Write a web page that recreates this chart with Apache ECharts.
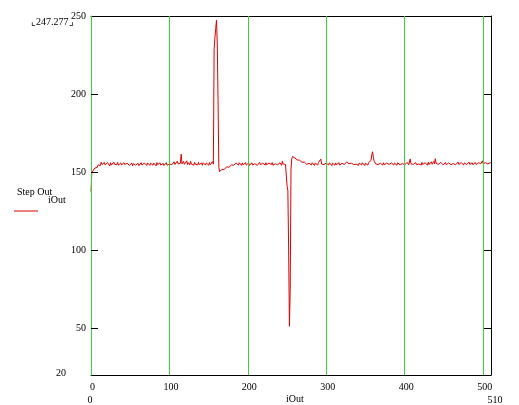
<!DOCTYPE html>
<html>
<head>
<meta charset="utf-8">
<script src="https://cdn.jsdelivr.net/npm/echarts@6/dist/echarts.min.js"></script>
<style>
html,body{margin:0;padding:0;background:#fff;}
#chart{width:519px;height:405px;}
</style>
</head>
<body>
<div id="chart"></div>
<script>
// ---- data ----
const stepOut = [
137.5,149.2,150.4,151.3,151.0,152.6,152.1,153.8,153.0,154.6,153.7,155.4,154.2,156.3,154.8,155.9,154.1,156.2,154.6,155.8,
154.3,156.1,154.9,155.4,153.9,156.0,154.5,155.7,154.2,156.4,155.0,154.1,155.8,154.7,156.2,154.4,155.3,153.8,155.9,154.6,
155.5,154.2,156.1,154.8,155.2,153.9,155.7,154.5,156.0,154.3,155.1,154.6,155.8,154.0,155.4,154.9,156.2,154.4,155.0,154.7,
155.6,154.1,155.3,154.8,156.0,154.5,155.2,153.9,155.8,154.6,155.4,154.2,155.9,154.7,155.1,154.3,155.7,154.9,155.3,154.4,
155.8,154.6,155.2,154.0,156.1,154.8,155.4,154.3,155.9,154.5,155.1,154.7,155.6,154.2,155.3,154.9,156.0,154.4,155.5,154.8,
155.2,154.5,156.3,154.7,155.9,154.1,156.6,154.9,155.4,154.6,157.0,155.2,156.4,154.8,155.7,161.5,155.3,154.6,156.8,155.0,
155.9,154.3,157.2,154.8,156.1,155.4,154.6,156.9,155.1,154.7,155.8,154.4,156.3,155.0,154.5,155.9,154.7,156.2,154.9,155.3,
154.6,155.8,154.3,156.0,154.8,155.4,154.5,155.9,154.9,155.2,154.4,156.1,154.7,155.5,154.9,156.7,155.1,229.0,236.0,242.0,
247.277,232.0,196.0,153.0,150.2,151.0,150.6,151.8,151.2,152.5,151.7,152.9,152.2,153.4,152.6,153.8,153.1,154.2,153.5,154.6,
154.1,155.3,154.4,155.6,154.2,155.8,154.7,155.1,154.5,156.0,154.8,155.4,154.3,155.9,154.6,155.2,154.9,156.1,154.4,155.5,
154.7,155.9,154.2,155.3,154.8,156.0,154.5,155.6,154.1,155.4,154.9,155.8,154.3,155.2,154.6,156.2,154.8,155.1,154.4,155.7,
154.9,155.3,154.5,156.0,154.7,155.5,154.2,155.8,154.6,155.2,154.8,156.1,154.4,155.6,154.9,155.3,154.5,156.3,154.7,155.4,
154.6,156.0,155.1,154.3,157.0,155.2,154.8,156.4,154.9,154.5,141.0,138.0,100.0,51.2,75.0,152.0,158.5,160.0,160.9,159.6,
159.0,158.4,158.7,157.8,158.1,157.2,157.6,156.8,157.1,156.3,156.6,155.7,156.4,155.3,156.1,155.0,155.8,154.7,155.6,154.9,
155.4,154.6,156.0,154.8,155.3,154.2,155.9,154.7,155.5,154.4,156.1,155.0,155.6,158.3,155.2,154.6,156.0,154.8,155.4,154.3,
155.8,154.7,155.2,154.5,156.0,154.9,155.3,154.1,155.7,154.8,155.1,154.4,155.9,154.6,155.2,154.9,156.1,154.5,155.4,154.7,
155.6,154.8,156.3,155.0,155.9,154.6,156.4,155.2,157.2,155.4,156.0,154.9,155.7,154.5,155.3,154.8,155.9,154.4,155.1,154.7,
155.5,154.3,155.8,154.9,155.2,154.6,156.0,154.8,155.4,154.2,155.7,154.9,155.3,154.5,156.1,155.0,156.4,157.5,161.0,163.0,
159.5,157.0,155.8,155.2,154.6,155.9,154.8,155.3,154.4,155.7,154.9,155.1,154.5,156.0,154.7,155.4,154.2,155.8,154.6,155.2,
154.9,155.6,154.3,155.9,154.7,155.1,154.5,155.8,154.8,155.3,154.4,156.0,154.9,155.2,154.6,155.7,154.3,155.5,154.8,155.9,
154.6,155.3,154.9,156.2,155.0,154.7,155.8,158.4,155.3,154.6,156.0,154.9,155.4,154.5,156.1,154.8,155.6,154.3,155.2,154.9,
155.8,154.5,156.2,154.9,155.4,154.6,156.0,155.1,155.7,154.4,156.3,154.8,155.5,154.7,156.6,155.0,155.9,156.8,155.3,158.6,
155.6,154.7,156.0,154.9,155.4,154.5,156.2,155.0,155.8,154.6,155.3,154.9,156.1,154.7,155.6,154.4,155.9,155.1,155.3,154.8,
156.0,154.6,155.4,155.0,156.2,154.7,155.8,155.2,156.4,154.9,155.5,154.8,156.1,155.0,155.7,154.6,155.9,155.2,156.3,154.8,
155.6,155.1,156.4,154.9,155.8,155.3,156.0,154.7,155.5,155.1,156.2,154.9,155.7,155.2,156.1,155.0,155.8,155.3,156.5,157.2,
155.4,155.9,155.1,156.0,155.3,155.8,155.2,155.9,155.5,156.1,155.6
];
const xTicks = [0, 100, 200, 300, 400, 500];
const xEnds = [0, 510];
const yTicks = [20, 50, 100, 150, 200, 250];
const yMarks = [50, 100, 150, 200];
const xMin = 0, xMax = 510, yMin = 20, yMax = 250;
const seriesName = 'Step Out';
const seriesSub = 'iOut';
const xName = 'iOut';
const topValue = '247.277';

const points = stepOut.map((v, i) => [i, v]);
const FONT = '"Liberation Serif", "DejaVu Serif", serif';
const GREEN = '#3fd03f';
const PLOT_W = 519 - 91 - 28;

const chart = echarts.init(document.getElementById('chart'), null, {renderer: 'canvas'});
chart.setOption({
  animation: false,
  backgroundColor: '#ffffff',
  grid: {left: 91, right: 28, top: 16, bottom: 30, show: false, containLabel: false, outerBoundsMode: 'none'},
  xAxis: [{
    type: 'value', min: xMin, max: xMax, position: 'bottom',
    axisLine: {show: true, onZero: false, lineStyle: {color: '#000', width: 1}},
    axisTick: {show: false},
    splitLine: {show: false},
    axisLabel: {customValues: xTicks, color: '#000', fontFamily: FONT, fontSize: 10, margin: 7,
      formatter: v => '{p|' + v + '}', rich: {p: {fontFamily: FONT, fontSize: 10, padding: [0, 0, 0, 3]}}}
  }, {
    type: 'value', min: xMin, max: xMax, position: 'bottom', offset: 13,
    axisLine: {show: false, onZero: false}, axisTick: {show: false}, splitLine: {show: false},
    axisLabel: {customValues: xEnds, color: '#000', fontFamily: FONT, fontSize: 10, margin: 7,
      formatter: v => v === xMax ? '{r|' + v + '}' : '{l|' + v + '}',
      rich: {r: {fontFamily: FONT, fontSize: 10, padding: [0, 0, 0, 8]}, l: {fontFamily: FONT, fontSize: 10, padding: [0, 2, 0, 0]}}}
  }, {
    type: 'value', min: xMin, max: xMax, position: 'top',
    axisLine: {show: true, onZero: false, lineStyle: {color: '#000', width: 1}},
    axisTick: {show: false}, splitLine: {show: false}, axisLabel: {show: false}
  }],
  yAxis: [{
    type: 'value', min: yMin, max: yMax, position: 'left', z: 5,
    axisLine: {show: true, onZero: false, lineStyle: {color: GREEN, width: 1}},
    axisTick: {show: false},
    splitLine: {show: false},
    axisLabel: {customValues: yTicks, color: '#000', fontFamily: FONT, fontSize: 10, margin: 5,
      formatter: v => v === yMin ? '{lo|' + v + '}' : String(v),
      rich: {lo: {fontFamily: FONT, fontSize: 10, padding: [0, 20, 4, 0]}}}
  }, {
    type: 'value', min: yMin, max: yMax, position: 'right',
    axisLine: {show: true, onZero: false, lineStyle: {color: '#000', width: 1}},
    axisTick: {show: true, inside: true, length: 7, customValues: yMarks, lineStyle: {color: '#000'}},
    splitLine: {show: false},
    axisLabel: {show: false}
  }, {
    type: 'value', min: yMin, max: yMax, position: 'right', offset: -PLOT_W, z: 6,
    axisLine: {show: false, onZero: false},
    axisTick: {show: true, inside: false, length: 7, customValues: yMarks, lineStyle: {color: '#000'}},
    splitLine: {show: false},
    axisLabel: {show: false}
  }],
  series: [{
    name: seriesName, type: 'line', data: points, xAxisIndex: 0, yAxisIndex: 0,
    showSymbol: false, symbol: 'none', clip: false,
    lineStyle: {color: '#dd0000', width: 1},
    z: 3,
    markLine: {
      silent: true, symbol: 'none', animation: false, precision: 0,
      label: {show: false},
      lineStyle: {color: GREEN, width: 1, type: 'solid'},
      emphasis: {disabled: true},
      data: xTicks.map(v => ({xAxis: v}))
    }
  }],
  graphic: [
    {type: 'text', left: 31, top: 17, style: {text: '⌞' + topValue + '⌟', fill: '#000', font: '10px ' + FONT}},
    {type: 'text', left: 17, top: 187, style: {text: seriesName, fill: '#000', font: '10px ' + FONT}},
    {type: 'text', left: 48, top: 195, style: {text: seriesSub, fill: '#000', font: '10px ' + FONT}},
    {type: 'line', shape: {x1: 14, y1: 211, x2: 38, y2: 211}, style: {stroke: '#dd0000', lineWidth: 1}},
    {type: 'text', left: 286, top: 394, style: {text: xName, fill: '#000', font: '10px ' + FONT}}
  ]
});
</script>
</body>
</html>
